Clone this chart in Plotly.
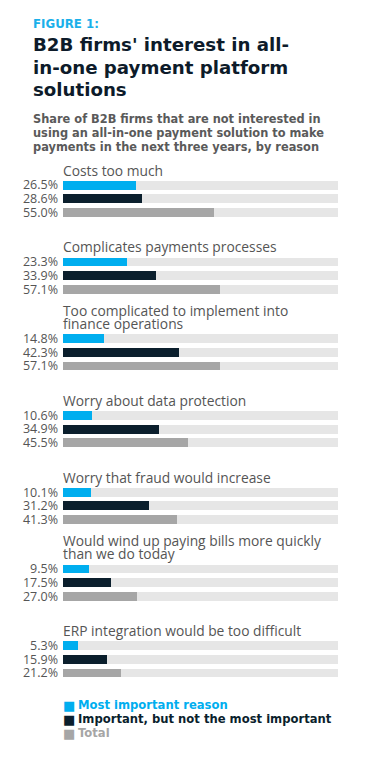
import plotly.graph_objects as go

categories = [
    "Costs too much",
    "Complicates payments processes",
    "Too complicated to implement into<br>finance operations",
    "Worry about data protection",
    "Worry that fraud would increase",
    "Would wind up paying bills more quickly<br>than we do today",
    "ERP integration would be too difficult",
]
most_important = [26.5, 23.3, 14.8, 10.6, 10.1, 9.5, 5.3]
important_not_most = [28.6, 33.9, 42.3, 34.9, 31.2, 17.5, 15.9]
total = [55.0, 57.1, 57.1, 45.5, 41.3, 27.0, 21.2]
series_names = ["Most important reason", "Important, but not the most important", "Total"]
series_colors = ["#00aeef", "#0b1f2d", "#a6a6a6"]
track_max = 100

W, H = 369, 778
OFF = 8  # page body margin
ML, MR, MT, MB = 63 - OFF, 369 - (338 - OFF), 144 - OFF, 778 - (706 - OFF)
PH = H - MT - MB
PW = W - ML - MR
GROUP_STEP = 5.6
UNIT_PX = PH / 41.0


def py(px):
    return (H - MB - (px - OFF)) / PH


def pxx(px):
    return ((px - OFF) - ML) / PW


series = [most_important, important_not_most, total]
fig = go.Figure()

all_y = []
all_txt = []
for j in range(3):
    ys = [GROUP_STEP * i + j for i in range(len(categories))]
    all_y += ys
    all_txt += [f"{v:.1f}%" for v in series[j]]

# background tracks
fig.add_trace(go.Bar(
    x=[track_max] * len(all_y), y=all_y, orientation="h",
    marker=dict(color="#e6e6e6", line=dict(width=0)), width=0.64,
    showlegend=False, hoverinfo="skip"))

for j in range(3):
    ys = [GROUP_STEP * i + j for i in range(len(categories))]
    fig.add_trace(go.Bar(
        x=series[j], y=ys, orientation="h", name=series_names[j],
        marker=dict(color=series_colors[j], line=dict(width=0)), width=0.64,
        showlegend=False))

annotations = []
for i, c in enumerate(categories):
    lines = c.split("<br>")
    n = len(lines)
    for k, line in enumerate(lines):
        off_px = 15 + 13.6 * (n - 1 - k)
        annotations.append(dict(
            x=0, y=GROUP_STEP * i - off_px / UNIT_PX, xref="x", yref="y", text=line,
            xanchor="left", yanchor="middle", align="left", showarrow=False,
            xshift=-1, borderpad=0,
            font=dict(family="Open Sans", size=13.8, color="#555555")))

# titles
annotations.append(dict(x=pxx(31), y=py(24), xref="paper", yref="paper", text="<b>FIGURE 1:</b>",
                        xanchor="left", yanchor="middle", showarrow=False,
                        font=dict(family="DejaVu Sans", size=11.8, color="#1ab0ea")))
title_lines = ["B2B firms' interest in all-", "in-one payment platform", "solutions"]
for k, t in enumerate(title_lines):
    annotations.append(dict(x=pxx(31), y=py(45 + 22.5 * k), xref="paper", yref="paper",
                            text=f"<b>{t}</b>", xanchor="left", yanchor="middle", showarrow=False,
                            font=dict(family="DejaVu Sans", size=18.2, color="#0d1b2a")))
sub_lines = ["Share of B2B firms that are not interested in",
             "using an all-in-one payment solution to make",
             "payments in the next three years, by reason"]
for k, t in enumerate(sub_lines):
    annotations.append(dict(x=pxx(31), y=py(119 + 14 * k), xref="paper", yref="paper",
                            text=f"<b>{t}</b>", xanchor="left", yanchor="middle", showarrow=False,
                            font=dict(family="DejaVu Sans", size=11.4, color="#5a5a5a")))

# legend
for j, name in enumerate(series_names):
    yc = py(705 + 14 * j)
    annotations.append(dict(x=pxx(61), y=yc, xref="paper", yref="paper", text="■",
                            xanchor="left", yanchor="middle", showarrow=False,
                            font=dict(family="DejaVu Sans", size=13, color=series_colors[j])))
    annotations.append(dict(x=pxx(76), y=yc, xref="paper", yref="paper", text=f"<b>{name}</b>",
                            xanchor="left", yanchor="middle", showarrow=False,
                            font=dict(family="DejaVu Sans", size=11.6, color=series_colors[j])))

fig.update_layout(
    width=W, height=H, margin=dict(l=ML, r=MR, t=MT, b=MB),
    paper_bgcolor="white", plot_bgcolor="white",
    barmode="overlay", bargap=0,
    xaxis=dict(range=[0, track_max], visible=False, fixedrange=True),
    yaxis=dict(range=[38, -3], tickvals=all_y, ticktext=all_txt,
               showgrid=False, zeroline=False, showline=False, ticks="",
               ticklabelstandoff=4, automargin=False,
               tickfont=dict(family="Open Sans", size=12.5, color="#555555")),
    annotations=annotations,
    showlegend=False,
)

fig.write_html("out.html")
